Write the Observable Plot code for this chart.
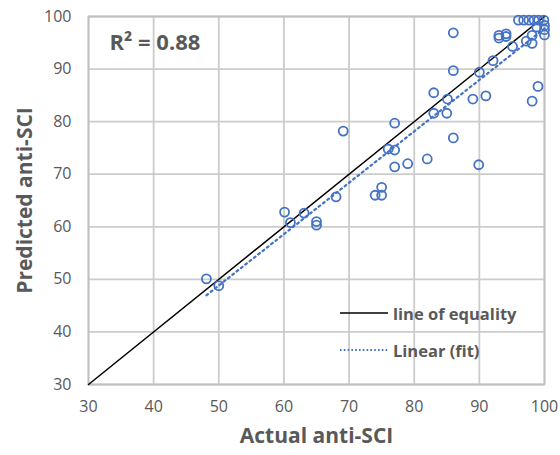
<!DOCTYPE html>
<html>
<head>
<meta charset="utf-8">
<script src="https://cdn.jsdelivr.net/npm/d3@7"></script>
<script src="https://cdn.jsdelivr.net/npm/@observablehq/plot@0.6"></script>
<style>
  html, body { margin: 0; padding: 0; background: #fff; }
  #wrap { position: relative; width: 560px; height: 455px; font-family: "Open Sans", sans-serif; }
  .leg { position: absolute; left: 340px; display: flex; align-items: center; font-weight: bold; font-size: 16.5px; color: #595959; }
  .leg svg { margin-right: 5px; }
</style>
</head>
<body>
<div id="wrap"></div>
<script>
// Actual vs predicted anti-SCI values
const actual = [48.1, 50.0, 60.1, 61.0, 63.1, 65.0, 65.0, 68.0, 69.1, 74.0, 75.0, 75.0, 76.0, 77.0, 77.0, 77.0,
  79.0, 82.0, 83.0, 83.0, 85.1, 85.0, 86.0, 86.0, 86.0, 89.0, 90.0, 89.9, 91.0, 92.1, 93.0, 93.0, 94.1, 94.1,
  95.1, 97.2, 98.1, 98.1, 99.0, 98.1, 100.0, 98.8, 96.0, 96.8, 97.6, 98.4, 99.1, 99.9, 100.0, 100.0];
const predicted = [50.1, 48.8, 62.8, 60.8, 62.6, 61.0, 60.3, 65.7, 78.2, 66.0, 67.5, 66.0, 74.8, 74.6, 71.4, 79.7,
  72.0, 72.9, 85.5, 81.6, 84.3, 81.6, 96.9, 89.7, 76.9, 84.3, 89.4, 71.8, 84.9, 91.6, 96.4, 95.9, 96.7, 96.2,
  94.3, 95.3, 96.4, 94.9, 86.7, 83.9, 96.5, 98.0, 99.3, 99.3, 99.3, 99.3, 99.3, 99.3, 98.3, 97.5];
const equalityX = [30, 100];
const equalityY = [30, 100];
const xTicks = [30, 40, 50, 60, 70, 80, 90, 100];
const yTicks = [30, 40, 50, 60, 70, 80, 90, 100];
const r2Label = ["R² = 0.88"];
const xTitle = ["Actual anti-SCI"];
const yTitle = ["Predicted anti-SCI"];
const legendLabels = ["line of equality", "Linear (fit)"];

const points = actual.map((a, i) => ({actual: a, predicted: predicted[i]}));
const equality = equalityX.map((x, i) => ({x, y: equalityY[i]}));

const blue = "#4472C4";
const grey = "#595959";

const chart = Plot.plot({
  width: 560,
  height: 455,
  marginLeft: 88,
  marginRight: 16,
  marginTop: 16,
  marginBottom: 71,
  style: {fontFamily: "Open Sans, sans-serif", fontSize: "16px", color: grey, background: "white"},
  x: {domain: [30, 100]},
  y: {domain: [30, 100]},
  marks: [
    Plot.gridX(xTicks, {stroke: "#cccccc", strokeOpacity: 1, strokeWidth: 1.8}),
    Plot.gridY(yTicks, {stroke: "#cccccc", strokeOpacity: 1, strokeWidth: 1.8}),
    Plot.frame({stroke: "#c0c0c0", strokeWidth: 1.8}),
    Plot.axisX(xTicks, {tickSize: 0, tickPadding: 16, fill: grey, fontSize: 16, label: null}),
    Plot.axisY(yTicks, {tickSize: 0, tickPadding: 17, fill: grey, fontSize: 16, label: null}),
    Plot.line(equality, {x: "x", y: "y", stroke: "black", strokeWidth: 1.5}),
    Plot.linearRegressionY(points, {x: "actual", y: "predicted", ci: 0, stroke: blue, strokeWidth: 2.2, strokeDasharray: "2,3.5"}),
    Plot.dot(points, {x: "actual", y: "predicted", r: 4.5, stroke: blue, strokeWidth: 1.8, fill: "none"}),
    Plot.text(r2Label, {frameAnchor: "top-left", dx: 21, dy: 18, fontSize: 22, fontWeight: "bold", fill: grey, textAnchor: "start"}),
    Plot.text(xTitle, {frameAnchor: "bottom", dy: 58, fontSize: 21, fontWeight: "bold", fill: grey, textAnchor: "middle"}),
    Plot.text(yTitle, {frameAnchor: "left", dx: -63, rotate: -90, fontSize: 21, fontWeight: "bold", fill: grey, textAnchor: "middle"})
  ]
});

const wrap = document.getElementById("wrap");
wrap.appendChild(chart);

const legendRows = [
  {label: legendLabels[0], top: 301, stroke: "black", dash: null, w: 1.5},
  {label: legendLabels[1], top: 338, stroke: blue, dash: "1.6,2.2", w: 2}
];
for (const row of legendRows) {
  const div = document.createElement("div");
  div.className = "leg";
  div.style.top = row.top + "px";
  div.innerHTML = `<svg width="48" height="24"><line x1="0" x2="48" y1="12" y2="12" stroke="${row.stroke}" stroke-width="${row.w}" ${row.dash ? `stroke-dasharray="${row.dash}"` : ""}/></svg><span>${row.label}</span>`;
  wrap.appendChild(div);
}
</script>
</body>
</html>
